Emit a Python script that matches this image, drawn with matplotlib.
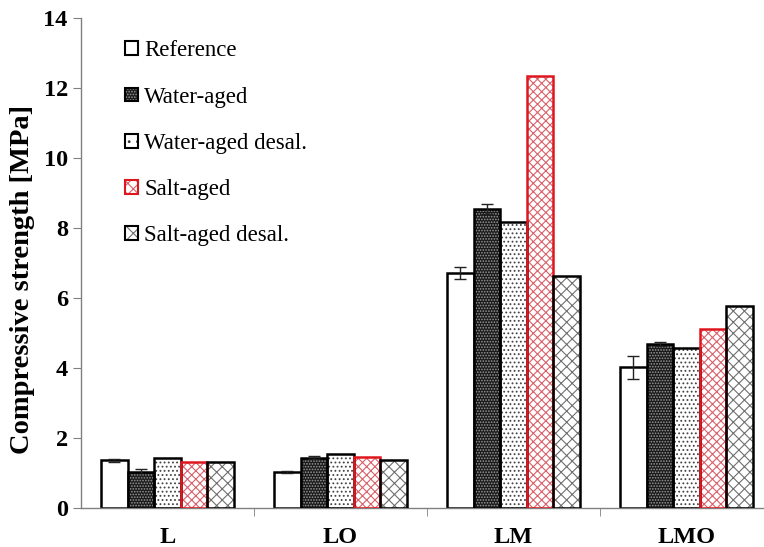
import numpy as np
import matplotlib
matplotlib.use("Agg")
import matplotlib.pyplot as plt
from matplotlib.patches import Patch

plt.rcParams['font.family'] = ['Liberation Serif', 'DejaVu Serif']
plt.rcParams['hatch.linewidth'] = 0.8

# valores
mortars = ['L', 'LO', 'LM', 'LMO']
series = ['Reference', 'Water-aged', 'Water-aged desal.', 'Salt-aged', 'Salt-aged desal.']
reference = [1.35, 1.02, 6.71, 4.01]
water_aged = [1.01, 1.43, 8.54, 4.68]
water_desal = [1.43, 1.53, 8.15, 4.57]
salt_aged = [1.29, 1.45, 12.34, 5.09]
salt_desal = [1.31, 1.37, 6.63, 5.77]
err_reference = [0.05, 0.02, 0.17, 0.33]
err_water_aged = [0.10, 0.05, 0.14, 0.05]

valores = [reference, water_aged, water_desal, salt_aged, salt_desal]
erros = [err_reference, err_water_aged, None, None, None]

fig = plt.figure(figsize=(7.64, 5.47), dpi=100)
ax = fig.add_axes([0.106, 0.072, 0.894, 0.896])

x = np.arange(len(mortars))
w = 0.154
desloc = (np.arange(5) - 2) * w
lw_bar = 1.8

handles = []
for i, (vals, err) in enumerate(zip(valores, erros)):
    pos = x + desloc[i]
    if i == 0:
        ax.bar(pos, vals, w, facecolor='white', edgecolor='black', lw=lw_bar, zorder=2)
        h = Patch(facecolor='white', edgecolor='black', lw=1.5)
    elif i == 1:
        ax.bar(pos, vals, w, facecolor='#1a1a1a', edgecolor='none', zorder=2)
        ax.bar(pos, vals, w, facecolor='none', edgecolor='#9a9a9a', hatch='......', lw=0, zorder=3)
        ax.bar(pos, vals, w, facecolor='none', edgecolor='black', lw=lw_bar, zorder=4)
        h = (Patch(facecolor='#1a1a1a', edgecolor='none'),
             Patch(facecolor='none', edgecolor='#9a9a9a', hatch='......', lw=0),
             Patch(facecolor='none', edgecolor='black', lw=1.5))
    elif i == 2:
        ax.bar(pos, vals, w, facecolor='white', edgecolor='#444444', hatch='....', lw=0, zorder=2)
        ax.bar(pos, vals, w, facecolor='none', edgecolor='black', lw=lw_bar, zorder=4)
        h = (Patch(facecolor='white', edgecolor='#333333', hatch='..', lw=0),
             Patch(facecolor='none', edgecolor='black', lw=1.5))
    elif i == 3:
        ax.bar(pos, vals, w, facecolor='white', edgecolor='#d9606a', hatch='xxxx', lw=0, zorder=2)
        ax.bar(pos, vals, w, facecolor='none', edgecolor='#e0161e', lw=lw_bar, zorder=4)
        h = (Patch(facecolor='white', edgecolor='#d9606a', hatch='xxx', lw=0),
             Patch(facecolor='none', edgecolor='#e0161e', lw=1.5))
    else:
        ax.bar(pos, vals, w, facecolor='white', edgecolor='#707070', hatch='xxx', lw=0, zorder=2)
        ax.bar(pos, vals, w, facecolor='none', edgecolor='black', lw=lw_bar, zorder=4)
        h = (Patch(facecolor='white', edgecolor='#707070', hatch='xx', lw=0),
             Patch(facecolor='none', edgecolor='black', lw=1.5))
    if err is not None:
        ax.errorbar(pos, vals, yerr=err, fmt='none', ecolor='#222222',
                    elinewidth=1, capsize=4, capthick=1, zorder=5)
    handles.append(h)

ax.set_xlim(-0.5, -0.5 + 683 / 173)
ax.set_ylim(0, 14)
ax.set_yticks(np.arange(0, 15, 2))
ax.set_xticks(x)
ax.set_xticklabels(mortars, fontsize=17.5, fontweight='bold')
ax.set_xticks(x[:-1] + 0.5, minor=True)
ax.tick_params(axis='x', which='major', length=0, pad=14)
ax.tick_params(axis='x', which='minor', length=6, color='#808080', direction='out')
ax.tick_params(axis='y', length=6, color='#808080', direction='out', labelsize=17.5)
for lbl in ax.get_yticklabels():
    lbl.set_fontweight('bold')

ax.set_ylabel('Compressive strength [MPa]', fontsize=20.5, fontweight='bold')
ax.yaxis.set_label_coords(-0.068, 0.466)

for s in ['top', 'right']:
    ax.spines[s].set_visible(False)
for s in ['left', 'bottom']:
    ax.spines[s].set_color('#808080')
    ax.spines[s].set_linewidth(1)

ax.legend(handles, series, loc='upper left', bbox_to_anchor=(0.051, 0.972),
          frameon=False, fontsize=16.5, handlelength=0.55, handleheight=0.55,
          handletextpad=0.3, labelspacing=1.1, borderaxespad=0)

fig.savefig('out.png', dpi=100)
